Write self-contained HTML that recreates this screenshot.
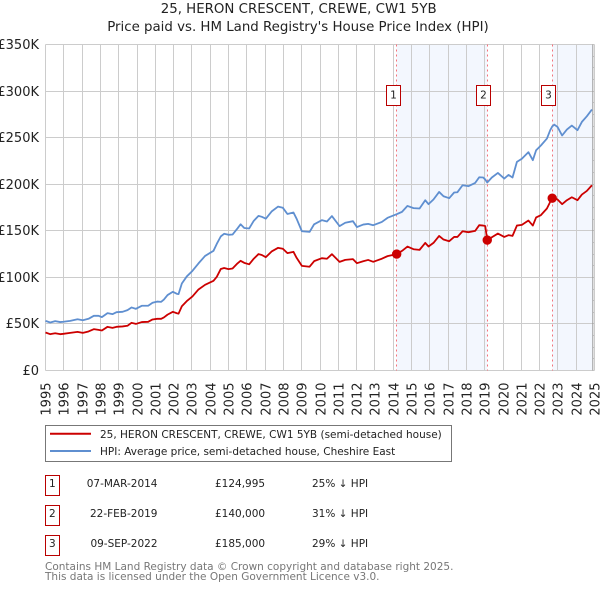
<!DOCTYPE html>
<html>
<head>
<meta charset="utf-8">
<title>25, HERON CRESCENT, CREWE, CW1 5YB</title>
<style>
html,body{margin:0;padding:0;background:#fff;width:600px;height:590px;overflow:hidden}
svg{display:block;font-family:"DejaVu Sans","Liberation Sans",sans-serif}
</style>
</head>
<body>
<svg id="chart" xmlns="http://www.w3.org/2000/svg" width="600" height="590" viewBox="0 0 600 590">
  <text x="298.7" y="13" font-size="13.35" text-anchor="middle" fill="#222">25, HERON CRESCENT, CREWE, CW1 5YB</text>
  <text x="298" y="31" font-size="13.35" text-anchor="middle" fill="#222">Price paid vs. HM Land Registry's House Price Index (HPI)</text>
  <g id="plot"></g>

  <g>
    <rect x="45.5" y="425.5" width="406" height="36" fill="#fff" stroke="#777" stroke-width="1"/>
    <line x1="50" x2="91" y1="433.7" y2="433.7" stroke="#cc0000" stroke-width="2"/>
    <text x="100" y="438" font-size="10.5" fill="#222">25, HERON CRESCENT, CREWE, CW1 5YB (semi-detached house)</text>
    <line x1="50" x2="91" y1="451" y2="451" stroke="#5f8fd0" stroke-width="2"/>
    <text x="100" y="455" font-size="10.5" fill="#222">HPI: Average price, semi-detached house, Cheshire East</text>
  </g>

  <g font-size="10.5" fill="#222">
    <g>
      <rect x="45.5" y="475.5" width="14" height="20" fill="#fff" stroke="#b90000"/>
      <text x="52.3" y="487" text-anchor="middle">1</text>
      <text x="157.5" y="487" text-anchor="end">07-MAR-2014</text>
      <text x="215" y="487">£124,995</text>
      <text x="312" y="487">25% ↓ HPI</text>
    </g>
    <g>
      <rect x="45.5" y="505.5" width="14" height="20" fill="#fff" stroke="#b90000"/>
      <text x="52.3" y="517" text-anchor="middle">2</text>
      <text x="157.5" y="517" text-anchor="end">22-FEB-2019</text>
      <text x="215" y="517">£140,000</text>
      <text x="312" y="517">31% ↓ HPI</text>
    </g>
    <g>
      <rect x="45.5" y="535.5" width="14" height="20" fill="#fff" stroke="#b90000"/>
      <text x="52.3" y="547" text-anchor="middle">3</text>
      <text x="157.5" y="547" text-anchor="end">09-SEP-2022</text>
      <text x="215" y="547">£185,000</text>
      <text x="312" y="547">29% ↓ HPI</text>
    </g>
  </g>

  <text x="45" y="570" font-size="10.5" fill="#777">Contains HM Land Registry data © Crown copyright and database right 2025.</text>
  <text x="45" y="580" font-size="10.5" fill="#777">This data is licensed under the Open Government Licence v3.0.</text>
</svg>
<script>
var yearTicks = [1995,1996,1997,1998,1999,2000,2001,2002,2003,2004,2005,2006,2007,2008,2009,2010,2011,2012,2013,2014,2015,2016,2017,2018,2019,2020,2021,2022,2023,2024,2025];
var priceTicks = [0,50000,100000,150000,200000,250000,300000,350000];
var priceTickLabels = ['£0','£50K','£100K','£150K','£200K','£250K','£300K','£350K'];
var dates = [1995.00,1995.26,1995.53,1995.80,1995.98,1996.35,1996.75,1997.04,1997.35,1997.64,1997.90,1998.08,1998.39,1998.66,1998.88,1999.21,1999.48,1999.70,1999.94,2000.26,2000.61,2000.85,2001.10,2001.32,2001.47,2001.67,2001.96,2002.18,2002.27,2002.45,2002.72,2003.03,2003.36,2003.72,2004.18,2004.36,2004.58,2004.76,2005.00,2005.22,2005.49,2005.66,2005.86,2006.13,2006.38,2006.64,2006.82,2007.04,2007.37,2007.71,2007.97,2008.22,2008.55,2008.72,2009.01,2009.43,2009.68,2010.10,2010.38,2010.65,2011.07,2011.38,2011.80,2012.02,2012.36,2012.63,2012.91,2013.38,2013.69,2014.19,2014.48,2014.78,2015.11,2015.44,2015.75,2015.93,2016.20,2016.51,2016.75,2017.06,2017.33,2017.51,2017.79,2018.11,2018.48,2018.70,2018.92,2019.03,2019.14,2019.39,2019.72,2020.07,2020.30,2020.52,2020.76,2021.03,2021.39,2021.63,2021.81,2022.07,2022.40,2022.58,2022.69,2022.80,2022.98,2023.23,2023.49,2023.76,2024.07,2024.31,2024.58,2024.86];
var hpiValues = [53.3,51.5,53,52,52.3,53.3,55,54,55.5,58.7,58.7,57.3,61.6,60.5,62.6,63,64.8,67.7,66.2,69.5,69.5,72.7,74,73.7,76.2,81,84.5,82.3,82,93.4,101,107,115,123,128.5,136,144,146.8,145.7,146,152.5,157,153,152.5,160.7,166,165,163,171,176,174.7,168,169.6,163,149.5,148.8,157,161.4,160,165.8,155,158.6,160.3,154,156.7,157.4,156,159.5,163.9,167.8,170.3,176.7,174.3,173.9,182.8,178.6,183.6,191.7,187.1,185,191.1,191.4,198.9,197.9,201.4,207.5,207.2,205,201.8,207.2,212.1,206.1,210,207.2,224,227.3,234.4,225.8,236.5,241.6,249,258,262,264,261.5,252.3,258.7,263,258,266.9,272.9,280.2];
var paidValues = [40.8,39,40,39,39.4,40.4,41.5,40.4,41.9,44.4,43.6,43,46.9,45.8,46.9,47.3,48,51.2,50,52,52.3,54.8,55.5,55.5,57,60,63,61.5,61,69,74.5,79.5,87,92,96.3,100.6,109,110,108.8,109.5,115,117.8,115.6,114,120,125,124,121.7,128,131.7,130.7,126,127.4,121,112.3,111.4,117.4,120.6,120,124.9,116.6,118.8,119.6,115.2,117.3,118.7,116.7,120,122.8,124.995,128.4,133.1,130.2,129.5,137,133.1,137,144.5,140.6,138.8,143.4,143.4,149.5,148.5,149.9,156,155.6,155,140,143.1,147,143.4,145.3,144.5,155.6,156.3,161,155.6,164.3,166.8,173.9,181,185,185.7,183.6,178.6,182.8,186,182.8,188.9,192.8,198.9];
var saleDates = [2014.19,2019.14,2022.69];
var salePrices = [124995,140000,185000];
var saleLabels = ['1','2','3'];
var shadeSpans = [[2014.19,2019.14],[2022.69,2025]];
var edgeTickValues = [12500,25000,37500,62500,75000,87500,112500,125000,137500,162500,175000,187500,212500,225000,237500,262500,275000,287500,312500,325000,337500];

var NS = 'http://www.w3.org/2000/svg';
var plot = document.getElementById('plot');
var LEFT = 45.5, BOTTOM = 370.5, TOP = 44.5, RIGHT = 594.5;
function xAxis(year){ return LEFT + (year - 1995) * (RIGHT - LEFT) / 30; }
function yAxis(value){ return BOTTOM - value * (BOTTOM - TOP) / 350000; }
function crisp(v){ return Math.floor(v) + 0.5; }
function mk(tag, attrs){
  var el = document.createElementNS(NS, tag);
  for (var k in attrs) el.setAttribute(k, attrs[k]);
  plot.appendChild(el);
  return el;
}
shadeSpans.forEach(function(s){
  var el = mk('rect', {x:xAxis(s[0]), y:TOP, width:Math.min(xAxis(s[1]),592.8)-xAxis(s[0]), height:BOTTOM-TOP, fill:'#f3f7fe'});
  
  
});
priceTicks.forEach(function(v, i){
  var y = crisp(yAxis(v));
  var line = mk('line', {x1:LEFT, x2:RIGHT, y1:y, y2:y, stroke:'#ccc', 'stroke-width':1});
  
  
  var label = mk('text', {x:39, y:y+4.5, 'font-size':13, 'text-anchor':'end', fill:'#222'});
  label.textContent = priceTickLabels[i];
  
  
});
yearTicks.forEach(function(yr){
  var x = crisp(xAxis(yr));
  var line = mk('line', {x1:x, x2:x, y1:TOP, y2:BOTTOM, stroke:'#ccc', 'stroke-width':1});
  
  
  var label = mk('text', {transform:'translate('+(x+5)+',382.5) rotate(-90)', 'font-size':13, 'text-anchor':'end', fill:'#222'});
  label.textContent = String(yr);
  
  
});
edgeTickValues.forEach(function(v){
  var y = crisp(yAxis(v));
  var tick = mk('line', {x1:593, x2:RIGHT, y1:y, y2:y, stroke:'#ccc', 'stroke-width':1});
  
  
});
var edge = mk('line', {x1:592.8, x2:592.8, y1:TOP, y2:BOTTOM, stroke:'#999', 'stroke-width':1});


saleDates.forEach(function(d){
  var el = mk('line', {x1:crisp(xAxis(d)), x2:crisp(xAxis(d)), y1:TOP, y2:BOTTOM, stroke:'#f4727c', 'stroke-width':1, 'stroke-dasharray':'2 3'});
  
  
});
function linePath(values){
  return values.map(function(v, i){
    return (i ? 'L' : 'M') + xAxis(dates[i]).toFixed(2) + ' ' + yAxis(v * 1000).toFixed(2);
  }).join('');
}
var hpiLine = mk('path', {d:linePath(hpiValues), fill:'none', stroke:'#5f8fd0', 'stroke-width':1.8, 'stroke-linejoin':'round'});


var paidLine = mk('path', {d:linePath(paidValues), fill:'none', stroke:'#cc0000', 'stroke-width':1.8, 'stroke-linejoin':'round'});


saleDates.forEach(function(d, i){
  var cx = xAxis(d), cy = yAxis(salePrices[i]), r = 4.7;
  var dot = mk('circle', {cx:cx, cy:cy, r:r, fill:'#cc0000'});
  
  
  var box = mk('rect', {x:crisp(cx-3.3-7), y:85.5, width:14, height:20, fill:'#fff', stroke:'#b90000', 'stroke-width':1});
  
  
  var t = mk('text', {x:crisp(cx-3.3-7)+7, y:98.5, 'font-size':10.5, 'text-anchor':'middle', fill:'#222'});
  t.textContent = saleLabels[i];
  
  
});
</script>
</body>
</html>
